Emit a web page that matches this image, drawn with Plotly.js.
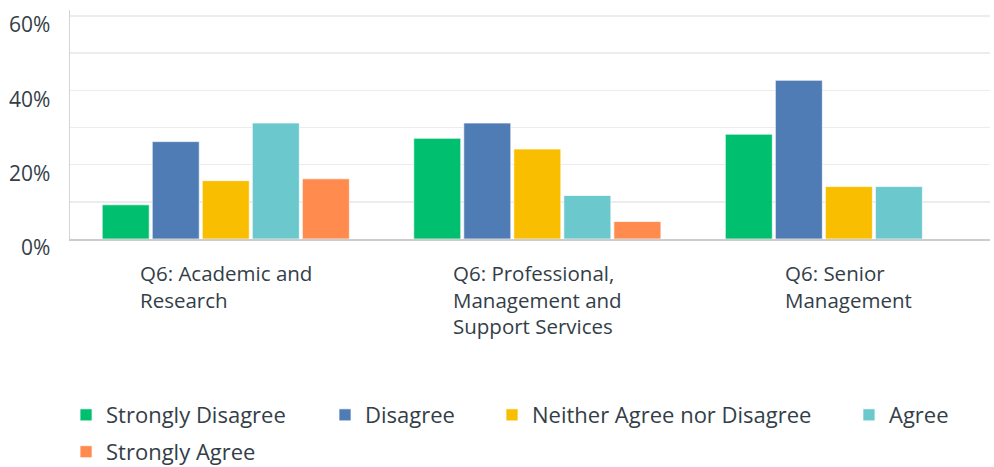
<!DOCTYPE html>
<html>
<head>
<meta charset="utf-8">
<script src="https://cdn.plot.ly/plotly-3.0.1.min.js"></script>
<style>html,body{margin:0;padding:0;background:#fff;}#chart{width:994px;height:467px;}</style>
</head>
<body>
<div id="chart"></div>
<script>
var categories = ["Q6: Academic and<br>Research", "Q6: Professional,<br>Management and<br>Support Services", "Q6: Senior<br>Management"];
var seriesNames = ["Strongly Disagree", "Disagree", "Neither Agree nor Disagree", "Agree", "Strongly Agree"];
var stronglyDisagree = [9.2, 27.1, 28.2];
var disagree = [26.2, 31.2, 42.7];
var neither = [15.7, 24.2, 14.1];
var agree = [31.2, 11.7, 14.1];
var stronglyAgree = [16.2, 4.7, 0];
var colors = ["#00BF6F", "#507CB6", "#F9BE00", "#6BC8CD", "#FF8B4F"];
var yTickVals = [0, 10, 20, 30, 40, 50, 60];
var yTickText = ["0%", "", "20%", "", "40%", "", "60%"];

var seriesValues = [stronglyDisagree, disagree, neither, agree, stronglyAgree];
var xIdx = categories.map(function (c, i) { return i; });
var legendIds = ["legend", "legend2", "legend3", "legend4", "legend5"];

var traces = seriesValues.map(function (vals, k) {
  return {
    type: "bar",
    name: seriesNames[k],
    legend: legendIds[k],
    x: xIdx,
    y: vals,
    marker: { color: colors[k], line: { color: "rgba(255,255,255,0.7)", width: 1 } },
    hoverinfo: "name+y"
  };
});

var fontFam = "Open Sans, sans-serif";
var annotations = categories.map(function (c, i) {
  return {
    x: i, xref: "x", y: 0, yref: "paper", yanchor: "top", xanchor: "center",
    yshift: -18, text: c, showarrow: false, align: "left",
    font: { family: fontFam, size: 20.5, color: "#333e48" }
  };
});

// legend placement (layout only)
var legendX = [-0.0043, 0.2772, 0.4587, 0.8467, -0.0043];
var legendY = [-0.677, -0.677, -0.677, -0.677, -0.838];

var layout = {
  width: 994, height: 467,
  margin: { l: 70, r: 4, t: 10, b: 228, autoexpand: false },
  paper_bgcolor: "#fff", plot_bgcolor: "#fff",
  barmode: "group", bargap: 0.197, bargroupgap: 0.06,
  showlegend: true,
  font: { family: fontFam, color: "#333e48" },
  xaxis: {
    type: "linear", range: [-0.5, 2.453], showticklabels: false, showgrid: false,
    zeroline: false, showline: true, linecolor: "#cccccc", linewidth: 1.5, ticks: "", fixedrange: true
  },
  yaxis: {
    range: [0, 61.6], tickvals: yTickVals, ticktext: yTickText,
    showgrid: true, gridcolor: "#ececec", gridwidth: 1.5,
    zeroline: false, showline: true, linecolor: "#d4d4d4", linewidth: 1.5,
    ticks: "", ticklabelstandoff: 14, ticklabelshift: 9,
    tickfont: { family: fontFam, size: 21, color: "#333e48" }
  },
  annotations: annotations
};

legendIds.forEach(function (id, k) {
  layout[id] = {
    orientation: "h", x: legendX[k], xanchor: "left", y: legendY[k], yanchor: "top",
    font: { family: fontFam, size: 22, color: "#333e48" },
    bgcolor: "rgba(0,0,0,0)"
  };
});

Plotly.newPlot("chart", traces, layout, { displayModeBar: false, staticPlot: true });
</script>
</body>
</html>
